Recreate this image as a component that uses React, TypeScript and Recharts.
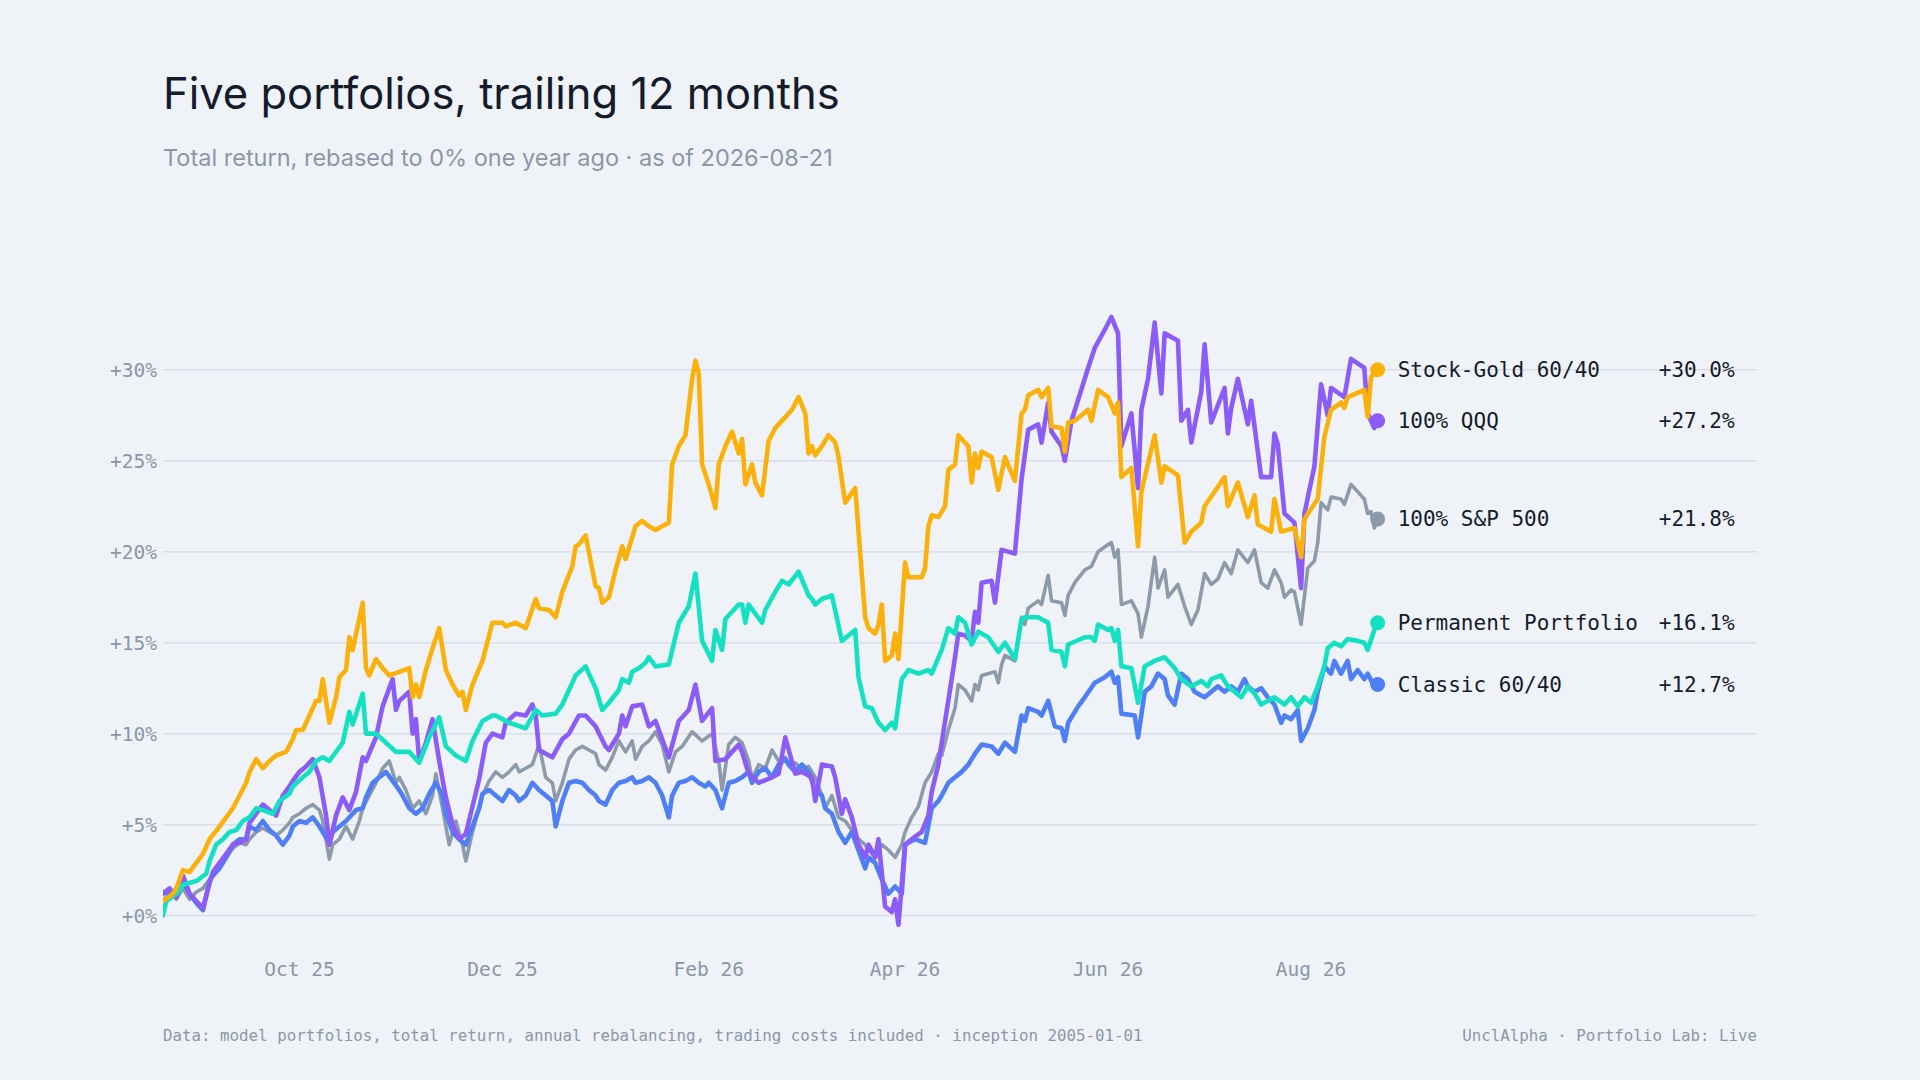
import React from "react";
import { LineChart, Line, XAxis, YAxis, CartesianGrid } from "recharts";

// ---- data (day offset from 2025-08-21, total return %) ----
const tickDays = [41, 102, 164, 223, 284, 345];
const tickLabels = ["Oct 25", "Dec 25", "Feb 26", "Apr 26", "Jun 26", "Aug 26"];
const yTicks = [0, 5, 10, 15, 20, 25, 30];

const stockGold: [number, number][] = [[0,0.8],[3,1.2],[4,1.5],[6,2.5],[8,2.4],[10,2.9],[12,3.4],[14,4.2],[17,4.9],[19,5.4],[21,5.9],[23,6.6],[25,7.3],[26,7.9],[28,8.6],[30,8.1],[32,8.5],[34,8.8],[37,9.0],[39,9.7],[40,10.2],[42,10.2],[44,11.0],[46,11.8],[47,11.8],[48,13.0],[50,10.6],[52,12.0],[53,13.1],[55,13.5],[56,15.3],[57,14.6],[60,17.2],[61,13.6],[62,13.2],[64,14.1],[66,13.6],[68,13.2],[71,13.4],[74,13.6],[75,12.0],[76,12.7],[77,12.0],[79,13.5],[81,14.7],[83,15.8],[85,13.5],[87,12.7],[89,12.1],[90,12.3],[91,11.3],[93,12.7],[96,14.0],[99,16.1],[102,16.1],[103,15.9],[106,16.1],[109,15.8],[112,17.4],[113,16.9],[116,16.8],[118,16.4],[120,17.8],[123,19.2],[124,20.3],[125,20.4],[127,20.9],[130,18.1],[131,18.0],[132,17.2],[134,17.5],[136,19.0],[138,20.3],[139,19.6],[142,21.4],[144,21.7],[146,21.4],[148,21.2],[150,21.4],[152,21.6],[153,24.8],[155,25.8],[157,26.4],[159,29.5],[160,30.5],[161,29.8],[162,24.8],[164,23.7],[166,22.4],[167,24.8],[169,25.8],[171,26.6],[173,25.4],[174,26.2],[175,23.7],[177,24.8],[178,23.8],[180,23.1],[182,26.1],[184,26.8],[185,27.0],[187,27.4],[189,27.8],[191,28.5],[193,27.6],[194,25.4],[195,25.8],[196,25.3],[198,25.8],[200,26.4],[202,26.0],[203,25.2],[205,22.7],[208,23.5],[211,16.4],[212,15.8],[214,15.5],[215,16.0],[216,17.1],[217,14.0],[219,14.3],[220,15.5],[221,14.1],[223,19.4],[224,18.6],[228,18.6],[229,19.1],[230,21.4],[231,22.0],[233,21.9],[235,22.5],[236,24.5],[238,24.8],[239,26.4],[242,25.8],[243,23.8],[244,25.4],[245,24.6],[246,25.5],[249,25.2],[251,23.4],[253,25.2],[256,23.9],[258,27.6],[259,27.8],[260,28.6],[263,28.9],[264,28.5],[266,29.0],[267,26.9],[270,26.8],[271,25.5],[272,27.1],[274,27.2],[278,27.8],[279,27.2],[281,28.9],[284,28.5],[286,27.6],[287,28.2],[288,24.1],[291,24.6],[293,20.3],[294,23.3],[298,26.4],[300,23.8],[301,24.7],[305,24.2],[307,20.5],[309,21.1],[312,21.6],[313,22.5],[319,24.1],[320,22.5],[323,23.8],[326,21.9],[328,23.1],[329,21.5],[333,21.1],[334,22.9],[336,21.1],[340,21.3],[342,19.7],[343,21.8],[347,22.9],[349,26.3],[351,27.8],[354,28.2],[355,27.9],[356,28.5],[361,28.9],[362,27.4],[363,29.6],[365,30.0]];

const qqq: [number, number][] = [[0,1.2],[2,1.5],[4,1.0],[6,2.2],[8,1.2],[10,0.8],[12,0.4],[14,1.8],[15,2.4],[17,2.9],[19,3.4],[21,3.9],[23,4.0],[25,4.2],[26,5.1],[28,5.6],[30,6.1],[32,5.8],[34,5.5],[36,6.6],[38,7.1],[39,7.4],[41,7.9],[43,8.2],[45,8.6],[47,7.6],[49,5.5],[50,3.9],[52,5.5],[54,6.5],[56,5.8],[58,6.8],[60,8.7],[61,8.5],[64,9.8],[66,11.5],[69,13.0],[70,11.3],[71,11.8],[74,12.3],[75,10.0],[76,10.8],[77,8.5],[79,9.5],[81,10.8],[83,8.5],[85,6.5],[87,5.0],[89,4.2],[91,4.5],[93,6.0],[95,7.5],[97,9.5],[99,10.0],[102,9.8],[103,10.6],[106,11.1],[109,11.0],[111,11.6],[112,11.0],[113,9.1],[117,8.7],[120,9.7],[122,10.0],[125,11.0],[127,11.0],[130,10.4],[133,9.3],[134,9.1],[137,10.0],[138,11.0],[139,10.4],[141,11.5],[144,11.6],[145,11.0],[146,10.4],[148,10.7],[152,8.7],[155,10.7],[158,11.3],[160,12.7],[162,10.7],[165,11.4],[166,8.5],[169,8.6],[173,9.4],[174,9.0],[176,7.8],[179,7.3],[183,7.6],[185,7.8],[187,9.8],[190,7.8],[192,7.9],[195,7.6],[196,6.3],[198,8.3],[201,8.2],[202,7.6],[204,5.6],[205,6.4],[207,5.4],[209,3.9],[211,3.2],[212,3.9],[214,3.2],[215,4.2],[217,0.5],[219,0.2],[220,0.9],[221,-0.5],[223,3.9],[225,4.2],[228,4.6],[230,5.5],[231,6.8],[233,8.3],[234,9.5],[237,13.0],[238,14.2],[239,15.5],[241,15.4],[243,15.1],[244,16.7],[245,16.1],[246,18.3],[249,18.4],[250,17.2],[252,20.1],[256,19.9],[258,24.0],[260,26.7],[263,27.0],[264,26.0],[266,28.2],[267,26.6],[270,25.8],[271,25.0],[273,27.2],[278,30.1],[280,31.2],[283,32.2],[285,32.9],[287,32.0],[288,25.8],[291,27.6],[293,23.5],[294,27.8],[296,29.5],[298,32.6],[300,28.7],[301,32.0],[305,31.6],[306,27.2],[308,27.8],[309,26.0],[312,28.8],[313,31.4],[315,27.1],[319,29.0],[320,26.5],[321,27.9],[323,29.5],[326,27.0],[327,28.3],[330,24.1],[333,24.1],[334,26.5],[335,25.9],[337,22.1],[340,21.6],[342,18.0],[343,22.1],[346,24.7],[348,29.2],[350,27.5],[351,29.0],[355,28.5],[357,30.6],[361,30.1],[362,27.6],[364,26.8],[365,27.2]];

const sp500: [number, number][] = [[0,0.9],[3,1.2],[4,0.9],[6,1.5],[8,0.9],[10,1.3],[12,1.5],[14,2.0],[15,2.3],[17,2.7],[19,3.2],[21,3.7],[23,4.0],[25,3.9],[26,4.2],[28,4.6],[30,4.8],[32,4.6],[34,4.4],[36,4.7],[38,5.1],[39,5.4],[41,5.6],[43,5.9],[45,6.1],[47,5.8],[48,5.2],[50,3.1],[51,3.9],[53,4.2],[55,4.9],[57,4.2],[59,5.2],[60,5.9],[62,6.6],[64,7.3],[66,8.1],[68,8.5],[70,7.3],[71,7.6],[73,6.9],[75,5.9],[77,6.3],[79,5.6],[81,6.6],[82,7.8],[84,5.9],[86,3.9],[88,5.2],[90,3.9],[91,3.0],[93,4.6],[95,5.9],[96,6.6],[98,7.4],[100,7.9],[102,7.6],[104,7.9],[106,8.3],[107,7.9],[109,8.1],[111,8.3],[113,9.4],[115,7.6],[117,7.3],[118,6.3],[120,7.3],[122,8.6],[124,9.1],[126,9.3],[128,9.1],[130,8.9],[131,8.3],[133,8.0],[135,8.7],[137,9.6],[139,9.0],[141,9.6],[142,8.6],[144,9.3],[146,9.6],[148,10.1],[150,9.4],[152,7.9],[154,9.0],[156,9.3],[159,10.1],[162,9.6],[165,10.0],[167,8.5],[168,6.9],[170,9.4],[172,9.8],[174,9.5],[176,8.5],[177,7.5],[179,8.3],[181,8.1],[183,9.1],[185,8.5],[187,8.7],[188,8.4],[190,8.4],[192,8.0],[194,8.2],[196,7.6],[198,6.6],[199,5.9],[201,6.6],[203,5.4],[205,5.2],[207,4.7],[209,4.2],[211,3.9],[212,3.6],[214,3.2],[216,3.9],[218,3.6],[220,3.2],[222,3.9],[223,4.6],[225,5.4],[227,6.0],[229,7.3],[231,7.9],[233,8.9],[234,8.8],[236,10.2],[238,11.4],[239,12.7],[241,12.4],[243,11.8],[244,12.7],[245,12.4],[246,13.2],[250,13.4],[251,12.8],[252,13.8],[253,14.3],[256,14.0],[258,16.4],[259,16.0],[260,16.9],[263,17.3],[264,17.1],[266,18.7],[267,17.3],[270,17.2],[271,16.5],[272,17.6],[274,18.3],[277,19.0],[279,19.2],[281,20.0],[284,20.4],[285,20.5],[286,19.7],[287,20.1],[288,17.1],[291,17.3],[293,16.6],[294,15.3],[296,17.0],[298,19.7],[299,18.0],[301,19.0],[302,17.5],[305,18.2],[307,17.0],[309,16.0],[311,16.8],[313,18.8],[315,18.2],[317,18.5],[319,19.4],[321,18.8],[323,20.1],[326,19.4],[328,20.1],[330,18.3],[332,18.0],[334,19.0],[336,18.3],[337,17.5],[339,17.9],[340,17.8],[342,16.0],[344,19.1],[346,19.5],[347,20.5],[348,22.7],[350,22.3],[351,23.0],[354,22.9],[355,22.6],[357,23.7],[361,22.9],[362,22.1],[363,22.2],[364,21.3],[365,21.8]];

const permanent: [number, number][] = [[0,0],[1,0.8],[4,1.2],[6,1.7],[10,1.9],[13,2.3],[14,3.0],[16,3.9],[18,4.2],[20,4.6],[22,4.7],[24,5.2],[26,5.4],[28,5.9],[30,5.8],[33,5.6],[35,6.3],[38,6.7],[39,7.1],[42,7.6],[44,7.9],[46,8.5],[48,8.7],[50,8.5],[54,9.5],[56,11.2],[57,10.5],[60,12.2],[61,10.0],[64,10.0],[67,9.5],[70,9.0],[74,9.0],[77,8.4],[80,9.8],[83,10.9],[85,9.3],[88,8.8],[91,8.5],[93,9.6],[96,10.7],[99,11.0],[100,11.0],[102,10.8],[104,10.6],[109,10.3],[112,11.3],[114,11.0],[118,11.1],[120,11.6],[122,12.4],[124,13.2],[127,13.7],[130,12.5],[132,11.3],[134,11.7],[137,12.4],[138,13.0],[140,12.8],[141,13.4],[143,13.6],[145,13.9],[146,14.2],[148,13.7],[152,13.8],[155,16.1],[158,17.0],[160,18.8],[162,15.1],[165,14.0],[166,15.7],[168,14.6],[169,16.3],[173,17.1],[174,17.1],[175,16.1],[176,17.1],[178,16.6],[180,16.1],[181,16.8],[184,17.8],[186,18.4],[188,18.2],[191,18.9],[194,17.6],[195,17.4],[196,17.1],[198,17.4],[201,17.6],[204,15.1],[208,15.7],[209,13.1],[211,11.5],[213,11.4],[215,10.6],[217,10.2],[219,10.6],[220,10.3],[222,13.0],[224,13.5],[227,13.3],[230,13.5],[231,13.3],[234,14.6],[236,15.8],[238,15.5],[239,16.4],[241,16.1],[243,14.9],[245,15.6],[248,15.3],[251,14.5],[253,15.0],[256,14.1],[258,16.3],[259,16.4],[263,16.4],[266,16.1],[267,14.6],[270,14.5],[271,13.7],[272,14.9],[277,15.3],[279,15.3],[280,15.1],[281,16.0],[284,15.7],[285,15.8],[286,15.1],[287,15.7],[288,13.7],[291,13.6],[293,11.7],[295,13.7],[298,14.0],[301,14.2],[304,13.6],[306,13.0],[309,12.6],[312,12.9],[314,12.6],[315,13.0],[318,13.2],[320,12.6],[322,12.3],[324,12.0],[326,12.6],[328,12.2],[330,11.6],[334,12.0],[337,11.6],[339,12.0],[341,11.5],[343,12.0],[345,11.7],[347,12.6],[349,13.7],[350,14.7],[352,15.0],[354,14.8],[356,15.2],[359,15.1],[361,15.0],[362,14.6],[364,15.7],[365,16.1]];

const classic: [number, number][] = [[0,1.3],[3,1.1],[4,1.3],[6,1.9],[8,1.2],[10,0.7],[12,0.3],[14,1.9],[15,2.2],[17,2.6],[19,3.2],[21,3.9],[23,4.2],[25,4.2],[26,4.9],[28,4.7],[30,5.2],[32,4.7],[34,4.4],[36,3.9],[38,4.4],[39,4.9],[41,5.2],[43,5.1],[45,5.4],[47,4.9],[50,4.0],[51,4.6],[53,4.9],[55,5.2],[58,5.8],[60,5.9],[61,6.5],[63,7.3],[65,7.6],[67,7.9],[69,7.4],[71,6.9],[72,6.6],[74,5.9],[76,5.6],[78,5.9],[80,6.7],[82,7.3],[84,6.6],[85,5.6],[87,4.6],[89,4.2],[91,3.9],[93,4.9],[95,5.9],[96,6.7],[98,6.9],[100,6.6],[102,6.3],[104,6.9],[106,6.6],[107,6.3],[109,6.6],[111,7.3],[113,6.9],[115,6.6],[117,6.3],[118,4.9],[120,6.3],[122,7.3],[124,7.4],[126,7.3],[128,6.9],[130,6.6],[131,6.3],[133,6.1],[135,6.9],[137,7.3],[139,7.4],[141,7.6],[142,7.3],[144,7.4],[146,7.6],[148,7.3],[150,6.6],[152,5.4],[153,6.6],[155,7.3],[157,7.4],[159,7.6],[161,7.3],[163,7.1],[164,7.3],[166,6.9],[168,5.9],[170,7.3],[172,7.4],[174,7.6],[176,7.9],[177,7.3],[179,7.9],[181,8.1],[183,7.6],[185,8.3],[187,8.6],[188,8.3],[190,7.9],[192,8.3],[194,7.9],[196,6.9],[198,6.6],[199,5.9],[201,5.6],[203,4.6],[205,4.0],[207,4.6],[209,3.6],[211,2.6],[212,3.2],[214,2.9],[216,2.0],[218,1.2],[220,1.6],[222,1.2],[223,3.9],[224,4.0],[226,4.2],[229,4.0],[231,5.9],[233,6.3],[234,6.6],[236,7.3],[238,7.6],[240,7.9],[242,8.3],[244,8.9],[246,9.4],[249,9.3],[251,8.9],[253,9.5],[256,9.0],[258,11.0],[259,10.7],[260,11.4],[263,11.2],[264,11.0],[266,11.8],[268,10.4],[270,10.3],[271,9.6],[272,10.6],[275,11.5],[277,12.0],[280,12.8],[283,13.1],[285,13.4],[286,12.8],[287,13.1],[288,11.1],[292,11.0],[293,9.8],[295,12.3],[297,12.6],[299,13.3],[301,13.0],[302,12.1],[304,11.6],[306,13.3],[308,13.0],[310,12.3],[312,12.1],[313,12.0],[315,12.3],[317,12.6],[319,12.3],[321,12.6],[323,12.3],[325,13.0],[326,12.6],[328,12.3],[330,12.5],[332,12.0],[334,11.6],[336,10.6],[337,11.0],[339,10.8],[341,11.3],[342,9.6],[344,10.3],[346,11.3],[347,12.3],[349,13.7],[351,13.3],[352,14.0],[354,13.3],[356,14.0],[357,13.0],[359,13.5],[361,13.0],[362,13.3],[364,12.6],[365,12.7]];

// ---- styling ----
const BG = "#eff3f8";
const GRID = "#d9dfea";
const MUTED = "#8b96a8";
const INK = "#141c2b";
const MONO = "'DejaVu Sans Mono', 'Liberation Mono', monospace";
const SANS = "Inter, 'Noto Sans', sans-serif";

type Series = { key: string; name: string; color: string; width: number; points: [number, number][] };

// drawing order: bottom to top
const series: Series[] = [
  { key: "sp500", name: "100% S&P 500", color: "#8c9aaa", width: 3.6, points: sp500 },
  { key: "classic", name: "Classic 60/40", color: "#4f7ff5", width: 4.6, points: classic },
  { key: "qqq", name: "100% QQQ", color: "#8b5cf6", width: 4.6, points: qqq },
  { key: "permanent", name: "Permanent Portfolio", color: "#14e0c2", width: 4.6, points: permanent },
  { key: "stockGold", name: "Stock-Gold 60/40", color: "#fbb10c", width: 4.6, points: stockGold },
];

const makeEndDot = (s: Series) => (props: any) => {
  const { cx, cy, index } = props;
  const k = `dot-${s.key}-${index}`;
  if (index !== s.points.length - 1 || cx == null || cy == null) return <g key={k} />;
  const last = s.points[s.points.length - 1][1];
  return (
    <g key={k}>
      <circle cx={cx} cy={cy} r={7.5} fill={s.color} />
      <text x={cx + 20} y={cy} dominantBaseline="central" fontFamily={MONO} fontSize={21} fill={INK}>
        {s.name}
      </text>
      <text x={cx + 357} y={cy} dominantBaseline="central" textAnchor="end" fontFamily={MONO} fontSize={21} fill={INK}>
        {`+${last.toFixed(1)}%`}
      </text>
    </g>
  );
};

export default function App() {
  return (
    <div style={{ position: "absolute", left: 0, top: 0, width: 1920, height: 1080, background: BG, overflow: "hidden" }}>
      <div style={{ position: "absolute", left: 163, top: 71, fontFamily: SANS, fontSize: 43.5, lineHeight: "44px", color: INK, whiteSpace: "nowrap" }}>
        Five portfolios, trailing 12 months
      </div>
      <div style={{ position: "absolute", left: 163, top: 146, fontFamily: SANS, fontSize: 23.5, lineHeight: "24px", color: MUTED, whiteSpace: "nowrap" }}>
        Total return, rebased to 0% one year ago · as of 2026-08-21
      </div>
      <div style={{ position: "absolute", left: 0, top: 0 }}>
        <LineChart width={1920} height={1080} margin={{ top: 297, right: 163, bottom: 88, left: 93 }}>
          <CartesianGrid horizontal vertical={false} horizontalValues={yTicks} stroke={GRID} strokeWidth={1.5} />
          <XAxis
            type="number"
            dataKey="d"
            domain={[0, 479]}
            ticks={tickDays}
            tickFormatter={(d: number) => tickLabels[tickDays.indexOf(d)] ?? ""}
            interval={0}
            axisLine={false}
            tickLine={false}
            tickSize={0}
            tickMargin={10}
            height={40}
            allowDataOverflow
            tick={{ fill: MUTED, fontSize: 19.5, fontFamily: MONO }}
          />
          <YAxis
            type="number"
            domain={[-2, 34]}
            ticks={yTicks}
            tickFormatter={(v: number) => `+${v}%`}
            interval={0}
            axisLine={false}
            tickLine={false}
            tickSize={0}
            tickMargin={6}
            width={70}
            allowDataOverflow
            tick={{ fill: MUTED, fontSize: 19.5, fontFamily: MONO }}
          />
          {series.map((s) => (
            <Line
              key={s.key}
              data={s.points.map(([d, v]) => ({ d, v }))}
              dataKey="v"
              type="linear"
              stroke={s.color}
              strokeWidth={s.width}
              strokeLinejoin="round"
              strokeLinecap="round"
              dot={makeEndDot(s)}
              activeDot={false}
              isAnimationActive={false}
            />
          ))}
        </LineChart>
      </div>
      <div style={{ position: "absolute", left: 163, top: 1028, fontFamily: MONO, fontSize: 15.8, lineHeight: "16px", color: MUTED, whiteSpace: "nowrap" }}>
        Data: model portfolios, total return, annual rebalancing, trading costs included · inception 2005-01-01
      </div>
      <div style={{ position: "absolute", right: 163, top: 1028, fontFamily: MONO, fontSize: 15.8, lineHeight: "16px", color: MUTED, whiteSpace: "nowrap" }}>
        UnclAlpha · Portfolio Lab: Live
      </div>
    </div>
  );
}
